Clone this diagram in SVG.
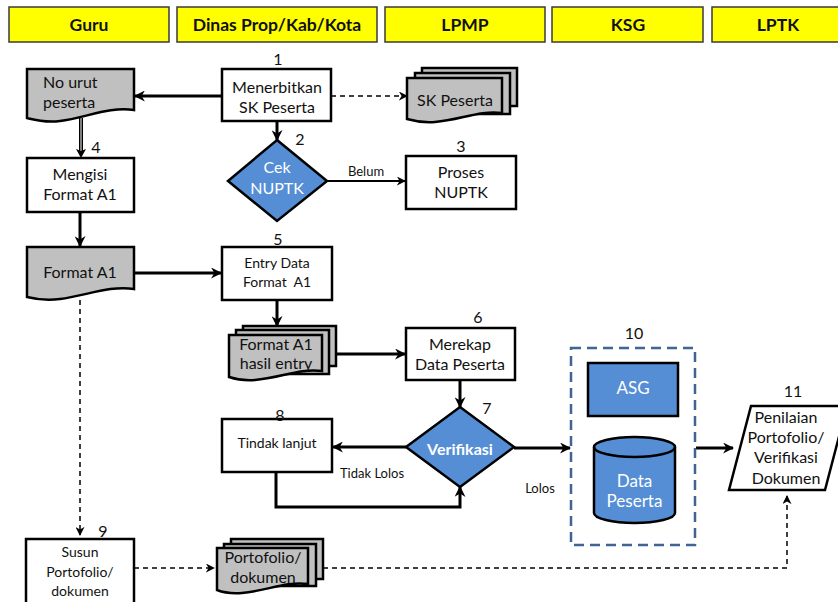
<svg xmlns="http://www.w3.org/2000/svg" width="838" height="602" viewBox="0 0 838 602">
<style>
text{font-family:Lato,"Open Sans","Liberation Sans",sans-serif;fill:#111;text-anchor:middle}
.hdr rect{fill:#FFFF00;stroke:#3a3a3a;stroke-width:1.5}
.hdr text{font-weight:bold;font-size:17.5px}
.box{fill:#fff;stroke:#000;stroke-width:2.5}
.doc{fill:#c0c0c0;stroke:#000;stroke-width:2.5}
.blue{fill:#558ED5;stroke:#000;stroke-width:2.5}
.num{font-size:16px}
.t16{font-size:16px}
.t14{font-size:14px}
.t13{font-size:13px}
.w{fill:#fff}
.thick{fill:none;stroke:#000;stroke-width:3}
.thin{fill:none;stroke:#000;stroke-width:2}
.dash{fill:none;stroke:#000;stroke-width:1.5;stroke-dasharray:5 4}
</style>
<defs>
<marker id="ah" viewBox="0 0 10 10" refX="9" refY="5" markerWidth="11" markerHeight="11" markerUnits="userSpaceOnUse" orient="auto">
<path d="M0,0 L10,5 L0,10 L3,5 Z" fill="#000"/>
</marker>
<marker id="ahs" viewBox="0 0 10 10" refX="9" refY="5" markerWidth="9" markerHeight="9" markerUnits="userSpaceOnUse" orient="auto">
<path d="M0,0 L10,5 L0,10 L3,5 Z" fill="#000"/>
</marker>
</defs>

<g id="headers" class="hdr">
<rect x="9" y="7" width="160" height="35"/><text x="89" y="31">Guru</text>
<rect x="177" y="7" width="200" height="35"/><text x="277" y="31">Dinas Prop/Kab/Kota</text>
<rect x="385" y="7" width="160" height="35"/><text x="465" y="31">LPMP</text>
<rect x="552" y="7" width="151" height="35"/><text x="628" y="31">KSG</text>
<rect x="712" y="7" width="140" height="35"/><text x="778" y="31">LPTK</text>
</g>

<g id="connectors">
<line class="thick" x1="222" y1="96" x2="135" y2="96" marker-end="url(#ah)"/>
<line class="dash" x1="331" y1="96" x2="407" y2="96" marker-end="url(#ahs)"/>
<line class="thick" x1="277" y1="121" x2="277" y2="140" marker-end="url(#ah)"/>
<line class="thin" x1="327" y1="181" x2="405" y2="181" marker-end="url(#ahs)"/>
<line x1="81" y1="118" x2="81" y2="152" stroke="#000" stroke-width="4"/>
<line x1="81" y1="118" x2="81" y2="152" stroke="#a0a0a0" stroke-width="1.6"/>
<path d="M76,149 L81,158 L86,149 L81,151 Z" fill="#000"/>
<line class="thick" x1="80" y1="212" x2="80" y2="246" marker-end="url(#ah)"/>
<line class="thick" x1="134" y1="273" x2="221" y2="273" marker-end="url(#ah)"/>
<line class="thick" x1="277" y1="300" x2="277" y2="326" marker-end="url(#ah)"/>
<line class="thick" x1="336" y1="354" x2="405" y2="354" marker-end="url(#ah)"/>
<line class="thick" x1="460" y1="380" x2="460" y2="407" marker-end="url(#ah)"/>
<line class="thick" x1="406" y1="447" x2="333" y2="447" marker-end="url(#ah)"/>
<path class="thick" d="M276,472 V507 H460 V487" marker-end="url(#ah)"/>
<line class="thick" x1="514" y1="448" x2="570" y2="448" marker-end="url(#ah)"/>
<line class="thick" x1="696" y1="448" x2="733" y2="448" marker-end="url(#ah)"/>
<line class="dash" x1="80" y1="300" x2="80" y2="535" marker-end="url(#ahs)"/>
<line class="dash" x1="134" y1="568" x2="214" y2="568" marker-end="url(#ahs)"/>
<path class="dash" d="M323,568 H787 V496" marker-end="url(#ahs)"/>
<text class="t13" x="366" y="176">Belum</text>
<text class="t13" x="372" y="478">Tidak Lolos</text>
<text class="t13" x="540" y="493">Lolos</text>
</g>

<g id="n1">
<rect class="box" x="222" y="69" width="109" height="52"/>
<text class="num" x="278" y="65">1</text>
<text class="t16" x="277" y="93">Menerbitkan</text>
<text class="t16" x="277" y="113">SK Peserta</text>
</g>

<g id="nourut">
<path class="doc" d="M27,69 H134 V110 C110,106 85,118 60,121 C45,123 35,120 27,118 Z"/>
<text class="t16" x="43" y="88" style="text-anchor:start">No urut</text>
<text class="t16" x="43" y="108" style="text-anchor:start">peserta</text>
</g>

<g id="skpeserta">
<rect class="doc" x="422" y="68" width="95" height="38"/>
<rect class="doc" x="415" y="73" width="95" height="41"/>
<path class="doc" d="M407,78 H502 V113 C480,110 460,120 435,122 C422,123 414,121 407,119 Z"/>
<text class="t16" x="455" y="106">SK Peserta</text>
</g>

<g id="n2">
<polygon class="blue" points="277,140 327,181 277,221 228,181"/>
<text class="num" x="300" y="145">2</text>
<text class="t16 w" x="277" y="173">Cek</text>
<text class="t16 w" x="277" y="194">NUPTK</text>
</g>

<g id="n3">
<rect class="box" x="406" y="156" width="110" height="53"/>
<text class="num" x="461" y="152">3</text>
<text class="t16" x="461" y="178">Proses</text>
<text class="t16" x="461" y="198">NUPTK</text>
</g>

<g id="n4">
<rect class="box" x="27" y="158" width="107" height="54"/>
<text class="num" x="96" y="153">4</text>
<text class="t16" x="80" y="180">Mengisi</text>
<text class="t16" x="80" y="200">Format A1</text>
</g>

<g id="formata1">
<path class="doc" d="M27,247 H134 V289 C110,285 85,296 60,299 C45,301 35,299 27,297 Z"/>
<text class="t16" x="80" y="278">Format A1</text>
</g>

<g id="n5">
<rect class="box" x="222" y="247" width="110" height="53"/>
<text class="num" x="278" y="245">5</text>
<text class="t14" x="277" y="268">Entry Data</text>
<text class="t14" x="277" y="287" xml:space="preserve">Format  A1</text>
</g>

<g id="hasilentry">
<rect class="doc" x="243" y="326" width="93" height="40"/>
<rect class="doc" x="236" y="330" width="93" height="44"/>
<path class="doc" d="M229,335 H322 V371 C300,368 280,378 255,380 C242,381 235,379 229,377 Z"/>
<text class="t16" x="276" y="350">Format A1</text>
<text class="t16" x="276" y="369">hasil entry</text>
</g>

<g id="n6">
<rect class="box" x="406" y="328" width="109" height="52"/>
<text class="num" x="478" y="323">6</text>
<text class="t16" x="460" y="350">Merekap</text>
<text class="t16" x="460" y="370">Data Peserta</text>
</g>

<g id="n7">
<polygon class="blue" points="460,407 514,447 460,487 406,447"/>
<text class="num" x="487" y="414">7</text>
<text class="t16 w" x="460" y="455" font-weight="bold">Verifikasi</text>
</g>

<g id="n8">
<rect class="box" x="222" y="419" width="110" height="53"/>
<text class="num" x="280" y="421">8</text>
<text class="t14" x="277" y="448">Tindak lanjut</text>
</g>

<g id="n10">
<rect x="571" y="348" width="124" height="197" fill="none" stroke="#3E6594" stroke-width="2.5" stroke-dasharray="10 6"/>
<text class="num" x="634" y="339">10</text>
<rect class="blue" x="588" y="363" width="90" height="53"/>
<text class="w" x="633" y="394" font-size="17">ASG</text>
<path class="blue" d="M594,447 A40.5,10 0 0 1 675,447 V513 A40.5,10 0 0 1 594,513 Z"/>
<path d="M594,447 A40.5,10 0 0 0 675,447" fill="none" stroke="#000" stroke-width="2.5"/>
<text class="w" x="634.5" y="487" font-size="17">Data</text>
<text class="w" x="634.5" y="507" font-size="17">Peserta</text>
</g>

<g id="n11">
<polygon class="box" points="751,406 847,406 825,490 729,490"/>
<text class="num" x="793" y="397">11</text>
<text class="t16" x="786" y="423">Penilaian</text>
<text class="t16" x="786" y="443">Portofolio/</text>
<text class="t16" x="786" y="463">Verifikasi</text>
<text class="t16" x="786" y="484">Dokumen</text>
</g>

<g id="n9">
<rect class="box" x="26" y="539" width="108" height="70"/>
<text class="num" x="103" y="537">9</text>
<text class="t14" x="80" y="557">Susun</text>
<text class="t14" x="80" y="577">Portofolio/</text>
<text class="t14" x="80" y="596">dokumen</text>
</g>

<g id="portofolio">
<rect class="doc" x="231" y="539" width="92" height="40"/>
<rect class="doc" x="224" y="544" width="92" height="42"/>
<path class="doc" d="M217,548 H308 V584 C286,581 266,591 242,593 C229,594 222,592 217,590 Z"/>
<text class="t16" x="263" y="563">Portofolio/</text>
<text class="t16" x="263" y="583">dokumen</text>
</g>
</svg>
